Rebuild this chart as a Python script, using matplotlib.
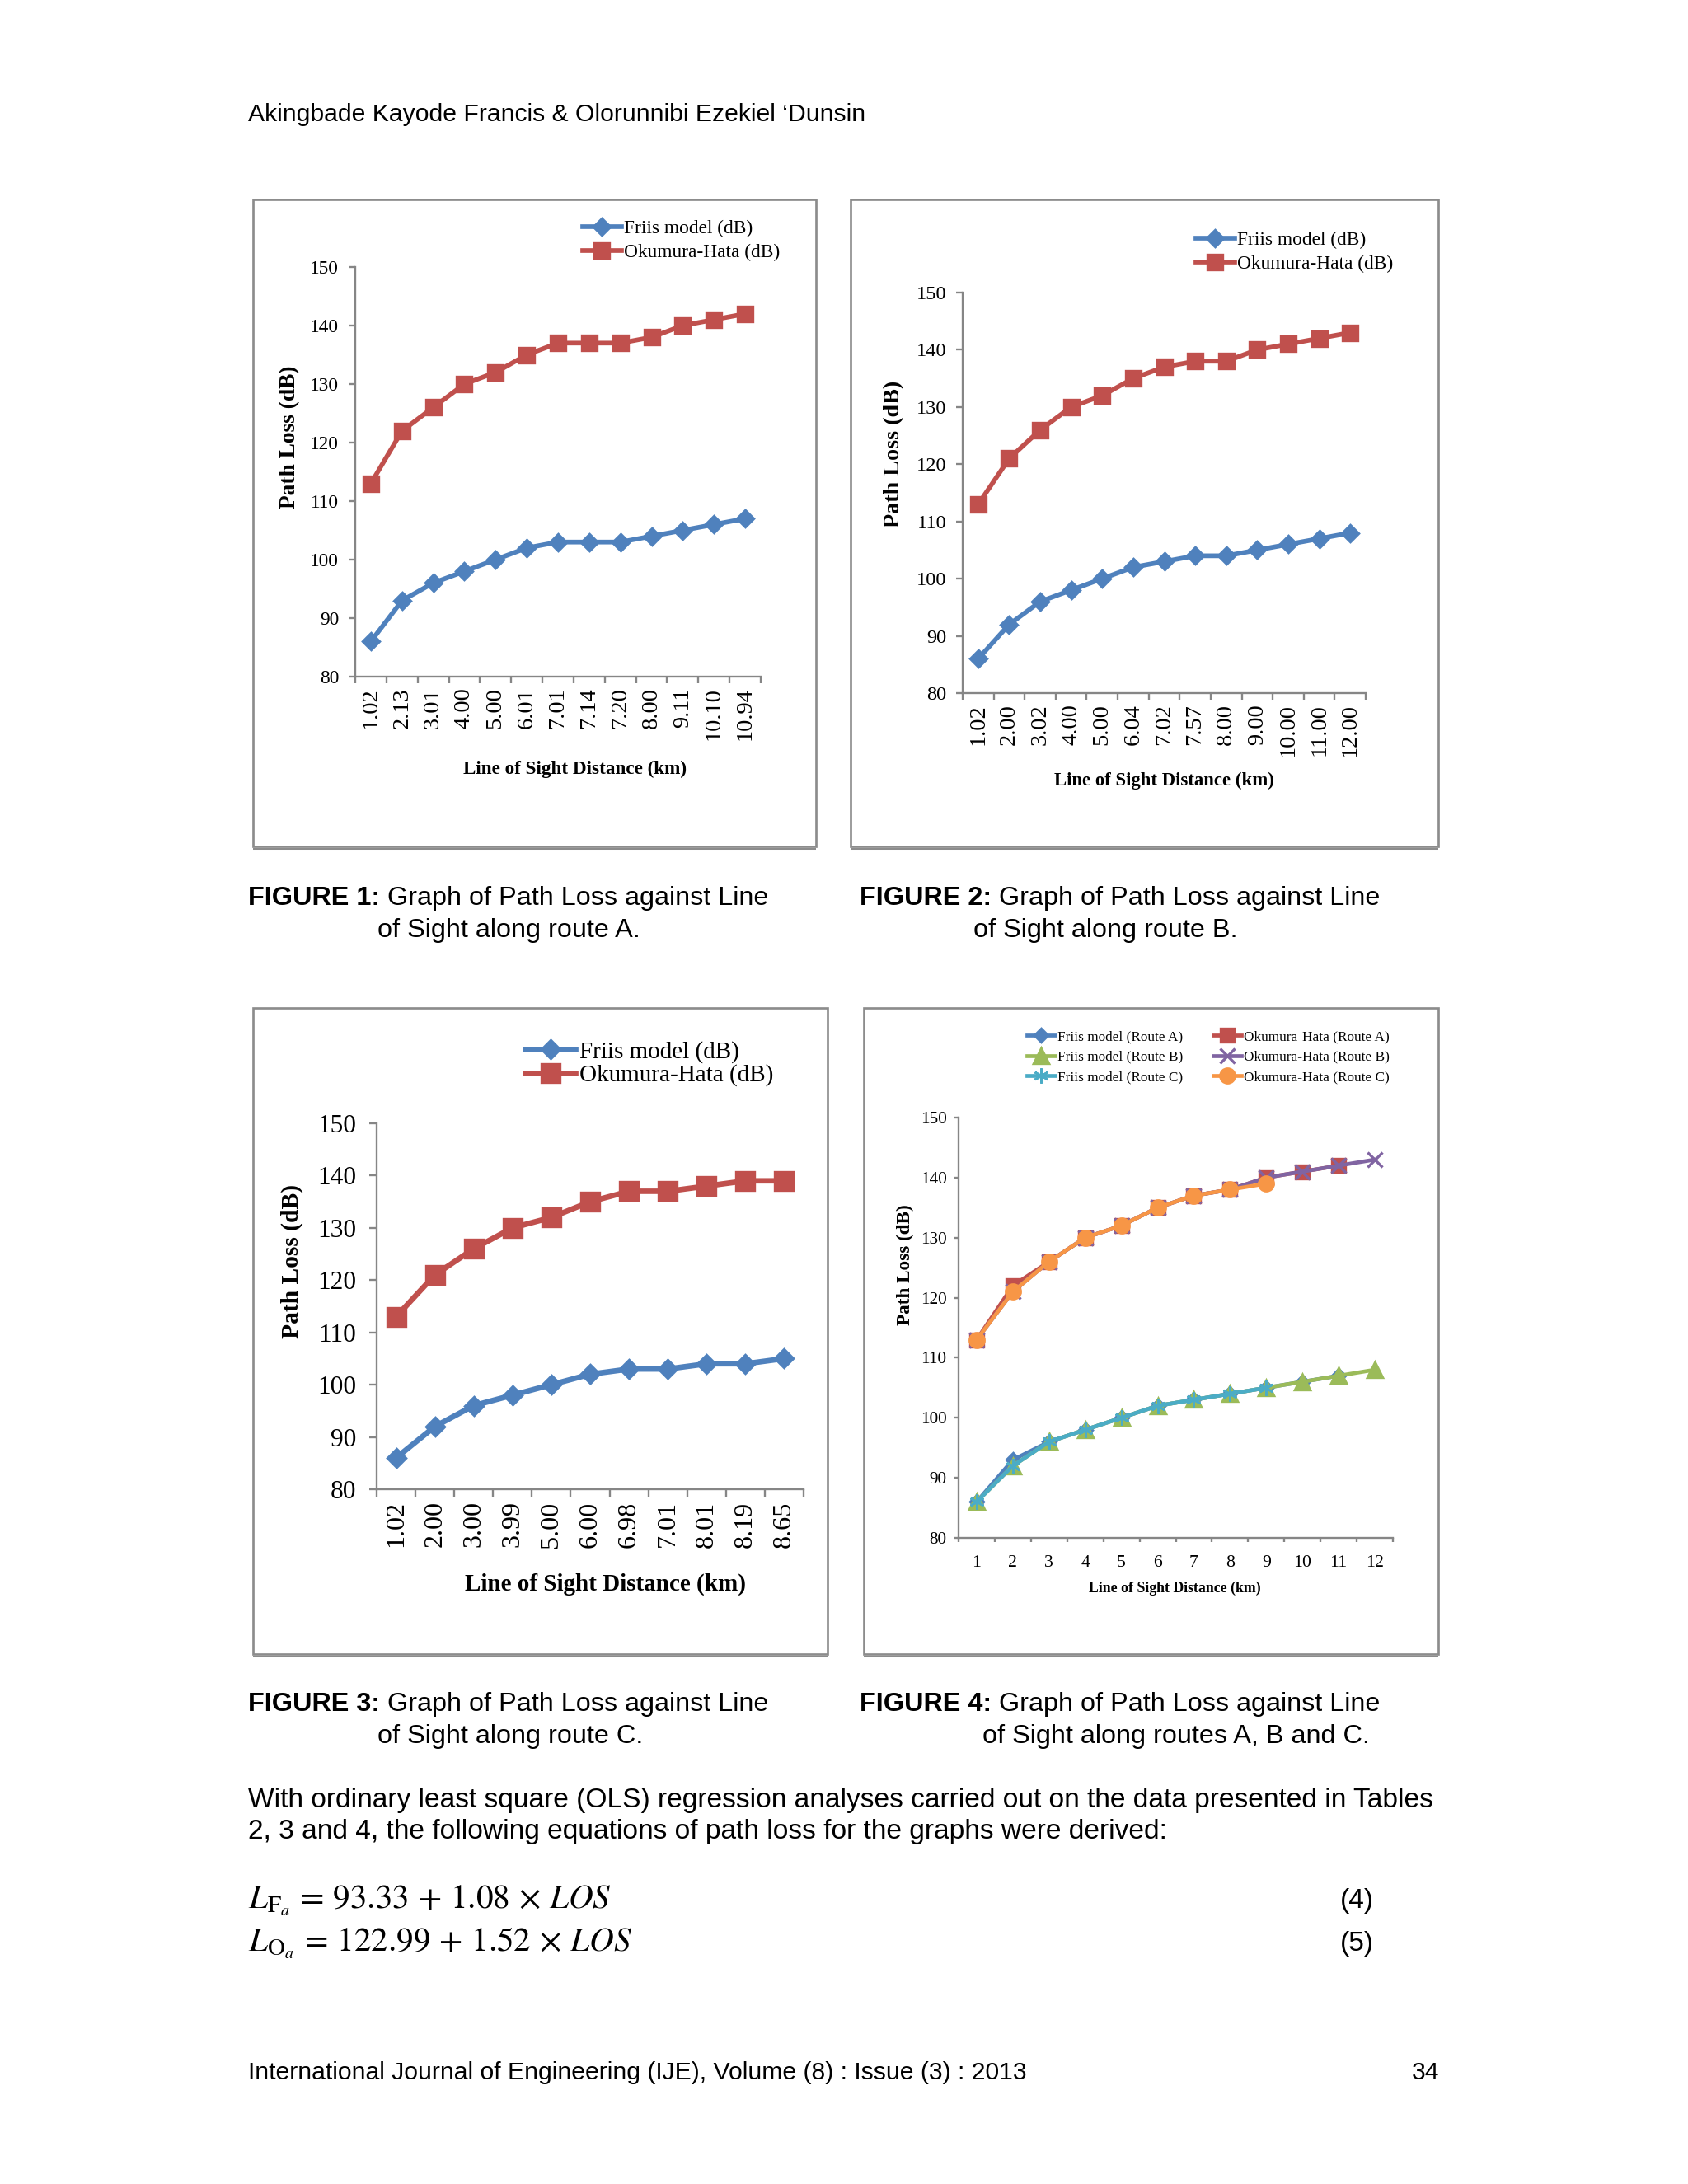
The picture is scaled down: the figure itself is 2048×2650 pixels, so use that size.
import numpy as np
import matplotlib
matplotlib.use("Agg")
import matplotlib.pyplot as plt
from matplotlib.patches import Rectangle

# ---------------------------------------------------------------------------
# Data
# ---------------------------------------------------------------------------
los_a = ["1.02", "2.13", "3.01", "4.00", "5.00", "6.01", "7.01", "7.14",
         "7.20", "8.00", "9.11", "10.10", "10.94"]
friis_a = [86, 93, 96, 98, 100, 102, 103, 103, 103, 104, 105, 106, 107]
hata_a = [113, 122, 126, 130, 132, 135, 137, 137, 137, 138, 140, 141, 142]

los_b = ["1.02", "2.00", "3.02", "4.00", "5.00", "6.04", "7.02", "7.57",
         "8.00", "9.00", "10.00", "11.00", "12.00"]
friis_b = [86, 92, 96, 98, 100, 102, 103, 104, 104, 105, 106, 107, 108]
hata_b = [113, 121, 126, 130, 132, 135, 137, 138, 138, 140, 141, 142, 143]

los_c = ["1.02", "2.00", "3.00", "3.99", "5.00", "6.00", "6.98", "7.01",
         "8.01", "8.19", "8.65"]
friis_c = [86, 92, 96, 98, 100, 102, 103, 103, 104, 104, 105]
hata_c = [113, 121, 126, 130, 132, 135, 137, 137, 138, 139, 139]

# combined chart (figure 4): rounded distance 1..12
los_all = [str(k) for k in range(1, 13)]
all_friis_a = [86, 93, 96, 98, 100, 102, 103, 104, 105, 106, 107]
all_hata_a = [113, 122, 126, 130, 132, 135, 137, 138, 140, 141, 142]
all_friis_b = [86, 92, 96, 98, 100, 102, 103, 104, 105, 106, 107, 108]
all_hata_b = [113, 121, 126, 130, 132, 135, 137, 138, 140, 141, 142, 143]
all_friis_c = [86, 92, 96, 98, 100, 102, 103, 104, 105]
all_hata_c = [113, 121, 126, 130, 132, 135, 137, 138, 139]

y_ticks = [80, 90, 100, 110, 120, 130, 140, 150]

# ---------------------------------------------------------------------------
# Page setup
# ---------------------------------------------------------------------------
W, H = 2048, 2650
DPI = 241
SERIF = "Liberation Serif"
SANS = "Liberation Sans"
AXGRAY = "#868686"
BLUE, RED, GREEN = "#4F81BD", "#C0504D", "#9BBB59"
PURPLE, CYAN, ORANGE = "#8064A2", "#4BACC6", "#F79646"

plt.rcParams["mathtext.fontset"] = "stix"

fig = plt.figure(figsize=(W / DPI, H / DPI), dpi=DPI)
page = fig.add_axes([0, 0, 1, 1])
page.set_xlim(0, W)
page.set_ylim(H, 0)
page.axis("off")


def px_axes(l, t, r, b):
    return fig.add_axes([l / W, 1 - b / H, (r - l) / W, (b - t) / H])


def frame(l, t, r, b):
    page.add_patch(Rectangle((l, t), r - l, b - t, fill=False,
                             ec="#8c8c8c", lw=0.8))
    # slightly heavier bottom edge, like the pasted chart image
    page.plot([l, r], [b + 2.5, b + 2.5], color="#8c8c8c", lw=0.6,
              solid_capstyle="butt")


def style_axes(ax, labels, yfs, xfs, rot, ypad, tick_len, xpad=None):
    n = len(labels)
    ax.set_xlim(0.5, n + 0.5)
    ax.set_ylim(80, 150)
    ax.set_yticks(y_ticks)
    ax.set_yticklabels([str(v) for v in y_ticks], family=SERIF, fontsize=yfs)
    ax.set_xticks(np.arange(0.5, n + 1, 1.0))
    ax.set_xticklabels([])
    ax.set_xticks(np.arange(1, n + 1), minor=True)
    ax.set_xticklabels(labels, minor=True, rotation=rot, family=SERIF,
                       fontsize=xfs)
    if xpad is None:
        xpad = tick_len + 1.5
    ax.tick_params(axis="x", which="minor", length=0, pad=xpad)
    ax.tick_params(axis="x", which="major", length=tick_len, width=0.7,
                   color=AXGRAY)
    ax.tick_params(axis="y", length=tick_len, width=0.7, color=AXGRAY,
                   pad=ypad)
    for s in ("top", "right"):
        ax.spines[s].set_visible(False)
    for s in ("left", "bottom"):
        ax.spines[s].set_color(AXGRAY)
        ax.spines[s].set_linewidth(0.7)


def legend(ax, x, y, fs, hl=2.0, ls=0.3):
    return ax.legend(loc="upper left", bbox_to_anchor=(x / W, 1 - y / H),
                     bbox_transform=fig.transFigure, frameon=False,
                     borderpad=0, borderaxespad=0, handlelength=hl,
                     handletextpad=0.15, labelspacing=ls, numpoints=1,
                     prop={"family": SERIF, "size": fs})


def axis_labels(yl_xy, yfs, xl_xy, xfs):
    page.text(yl_xy[0], yl_xy[1], "Path Loss (dB)", rotation=90,
              ha="center", va="center", family=SERIF, fontweight="bold",
              fontsize=yfs)
    page.text(xl_xy[0], xl_xy[1], "Line of Sight Distance (km)", ha="center",
              va="center", family=SERIF, fontweight="bold", fontsize=xfs)


# ---------------------------------------------------------------------------
# Figure 1 - route A
# ---------------------------------------------------------------------------
frame(307, 242, 990, 1027)
ax1 = px_axes(431, 324, 923, 821)
x = np.arange(1, len(los_a) + 1)
ax1.plot(x, friis_a, color=BLUE, marker="D", ms=4.2, lw=1.7,
         label="Friis model (dB)")
ax1.plot(x, hata_a, color=RED, marker="s", ms=5.6, lw=1.7,
         label="Okumura-Hata (dB)")
style_axes(ax1, los_a, 7, 8.5, 90, 3.5, 2.4)
legend(ax1, 707, 267, 7)
axis_labels((352, 530), 8.2, (698, 933), 6.9)

# ---------------------------------------------------------------------------
# Figure 2 - route B
# ---------------------------------------------------------------------------
frame(1032, 242, 1745, 1027)
ax2 = px_axes(1168, 355, 1657, 841)
x = np.arange(1, len(los_b) + 1)
ax2.plot(x, friis_b, color=BLUE, marker="D", ms=4.2, lw=1.7,
         label="Friis model (dB)")
ax2.plot(x, hata_b, color=RED, marker="s", ms=5.6, lw=1.7,
         label="Okumura-Hata (dB)")
style_axes(ax2, los_b, 7.3, 8.5, 90, 3.5, 2.4)
legend(ax2, 1451, 281, 7)
axis_labels((1085, 551), 8.4, (1412, 947), 6.8)

# ---------------------------------------------------------------------------
# Figure 3 - route C
# ---------------------------------------------------------------------------
frame(307, 1223, 1004, 2007)
ax3 = px_axes(457, 1363, 975, 1807)
x = np.arange(1, len(los_c) + 1)
ax3.plot(x, friis_c, color=BLUE, marker="D", ms=4.6, lw=2.0,
         label="Friis model (dB)")
ax3.plot(x, hata_c, color=RED, marker="s", ms=6.6, lw=2.0,
         label="Okumura-Hata (dB)")
style_axes(ax3, los_c, 9.4, 9.6, 90, 4.5, 2.8)
legend(ax3, 637, 1263, 8.7, hl=2.1, ls=0.05)
axis_labels((354, 1530), 8.8, (734, 1922), 8.7)

# ---------------------------------------------------------------------------
# Figure 4 - all routes
# ---------------------------------------------------------------------------
frame(1048, 1223, 1745, 2007)
ax4 = px_axes(1163, 1356, 1690, 1866)
h_fa, = ax4.plot(np.arange(1, len(all_friis_a) + 1), all_friis_a,
                 color=BLUE, marker="D", ms=3.5, lw=1.4,
                 label="Friis model (Route A)")
h_oa, = ax4.plot(np.arange(1, len(all_hata_a) + 1), all_hata_a,
                 color=RED, marker="s", ms=5.0, lw=1.4,
                 label="Okumura-Hata (Route A)")
h_fb, = ax4.plot(np.arange(1, len(all_friis_b) + 1), all_friis_b,
                 color=GREEN, marker="^", ms=5.4, lw=1.4,
                 label="Friis model (Route B)")
h_ob, = ax4.plot(np.arange(1, len(all_hata_b) + 1), all_hata_b,
                 color=PURPLE, marker="x", ms=5.4, mew=1.0, lw=1.4,
                 label="Okumura-Hata (Route B)")
h_fc, = ax4.plot(np.arange(1, len(all_friis_c) + 1), all_friis_c,
                 color=CYAN, marker=(6, 2, 0), ms=5.4, mew=0.8, lw=1.4,
                 label="Friis model (Route C)")
h_oc, = ax4.plot(np.arange(1, len(all_hata_c) + 1), all_hata_c,
                 color=ORANGE, marker="o", ms=5.2, lw=1.4,
                 label="Okumura-Hata (Route C)")
style_axes(ax4, los_all, 6.3, 6.5, 0, 2.8, 1.5, xpad=6.3)
order = [h_fa, h_fb, h_fc, h_oa, h_ob, h_oc]
ax4.legend(order, [h.get_label() for h in order],
           loc="upper left", bbox_to_anchor=(1246 / W, 1 - 1250 / H),
           bbox_transform=fig.transFigure, frameon=False, borderpad=0,
           borderaxespad=0, handlelength=2.0, handletextpad=0.15,
           labelspacing=0.5, ncol=2, columnspacing=2.1, numpoints=1,
           prop={"family": SERIF, "size": 5.15})
axis_labels((1098, 1535), 6.9, (1425, 1927), 5.3)

# ---------------------------------------------------------------------------
# Page text
# ---------------------------------------------------------------------------
page.text(301, 139, "Akingbade Kayode Francis & Olorunnibi Ezekiel \u2018Dunsin",
          family=SANS, fontsize=9, va="center", ha="left")


def caption(x, y, bold, rest, x2, line2):
    t = page.text(x, y, bold, family=SANS, fontsize=9.7, fontweight="bold",
                  va="center", ha="left")
    page.annotate(rest, xy=(1, 0), xycoords=t, va="bottom", ha="left",
                  family=SANS, fontsize=9.7)
    page.text(x2, y + 39, line2, family=SANS, fontsize=9.7, va="center",
              ha="left")


caption(301, 1090, "FIGURE 1:", " Graph of Path Loss against Line", 458,
        "of Sight along route A.")
caption(1043, 1090, "FIGURE 2:", " Graph of Path Loss against Line", 1181,
        "of Sight along route B.")
caption(301, 2068, "FIGURE 3:", " Graph of Path Loss against Line", 458,
        "of Sight along route C.")
caption(1043, 2068, "FIGURE 4:", " Graph of Path Loss against Line", 1192,
        "of Sight along routes A, B and C.")

page.text(301, 2184, "With ordinary least square (OLS) regression analyses "
          "carried out on the data presented in Tables", family=SANS,
          fontsize=10, va="center", ha="left")
page.text(301, 2223, "2, 3 and 4, the following equations of path loss for "
          "the graphs were derived:", family=SANS, fontsize=10, va="center",
          ha="left")

page.text(301, 2306, r"$L_{\mathrm{F}_a}\,=\,93.33\,+\,1.08\,\times\,LOS$",
          fontsize=12.3, va="center", ha="left")
page.text(301, 2358, r"$L_{\mathrm{O}_a}\,=\,122.99\,+\,1.52\,\times\,LOS$",
          fontsize=12.3, va="center", ha="left")
page.text(1667, 2306, "(4)", family=SANS, fontsize=10, va="center", ha="right")
page.text(1667, 2358, "(5)", family=SANS, fontsize=10, va="center", ha="right")

page.text(301, 2515, "International Journal of Engineering (IJE), Volume (8) "
          ": Issue (3) : 2013", family=SANS, fontsize=9, va="center",
          ha="left")
page.text(1746, 2515, "34", family=SANS, fontsize=9, va="center", ha="right")

fig.savefig("out.png", dpi=DPI)
plt.close(fig)
